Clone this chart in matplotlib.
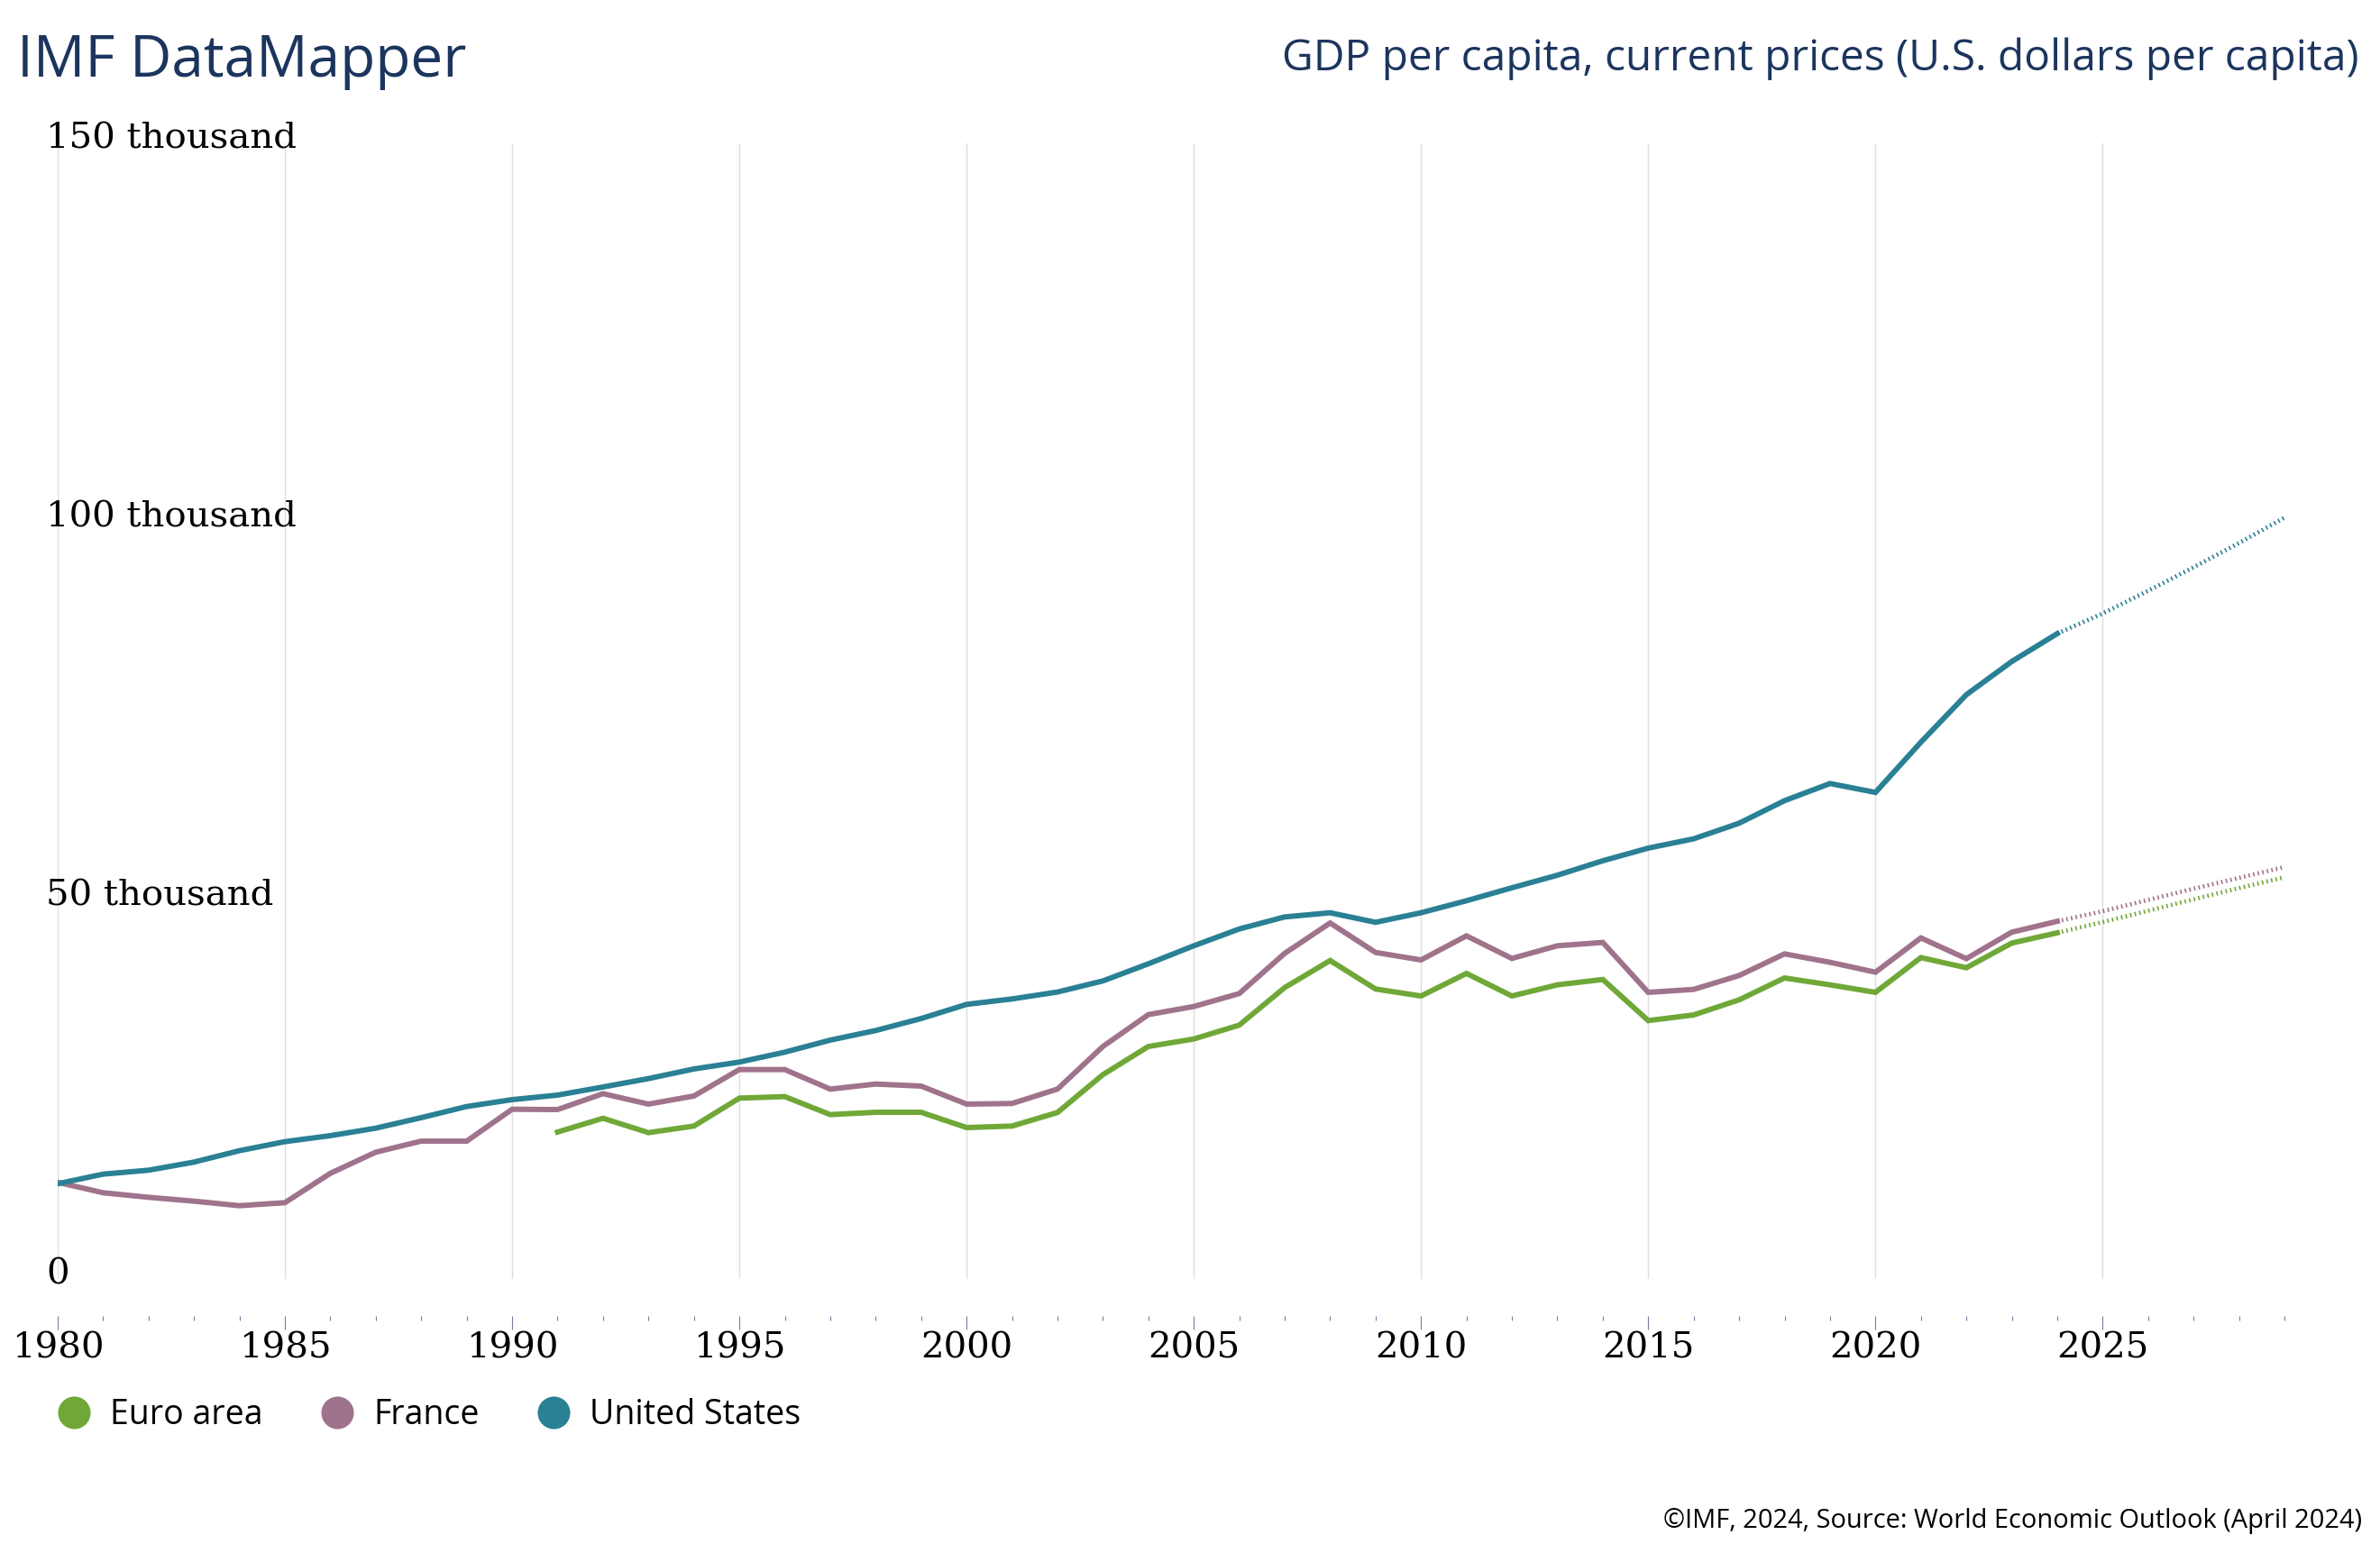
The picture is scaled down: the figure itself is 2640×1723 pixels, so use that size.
import matplotlib
matplotlib.use("Agg")
import matplotlib.pyplot as plt
from matplotlib.lines import Line2D
from matplotlib.transforms import ScaledTranslation

plt.rcParams['font.family'] = ['Open Sans', 'DejaVu Sans']

# valeurs (USD par habitant)
years = list(range(1980, 2025))
euro_years = list(range(1991, 2025))
proj_years = list(range(2024, 2030))

us = [12580, 13850, 14370, 15440, 16950, 18140, 18930, 19920, 21310, 22780,
      23690, 24290, 25360, 26470, 27740, 28650, 29960, 31550, 32820, 34400,
      36270, 36990, 37900, 39370, 41630, 44010, 46230, 47820, 48370, 47110,
      48370, 49960, 51670, 53330, 55240, 56910, 58140, 60200, 63180, 65440,
      64270, 70900, 77170, 81560, 85240]
france = [12770, 11390, 10790, 10280, 9680, 10080, 13960, 16750, 18210, 18210,
          22420, 22380, 24480, 23100, 24170, 27660, 27660, 25080, 25750, 25480,
          23100, 23180, 25080, 30710, 34920, 35990, 37700, 43010, 47020, 43130,
          42140, 45320, 42340, 44010, 44450, 37860, 38250, 40080, 42940, 41830,
          40520, 45050, 42310, 45810, 47240]
euro = [19410, 21230, 19330, 20200, 23890, 24090, 21710, 22020, 22020,
        20000, 20200, 21990, 26990, 30710, 31700, 33530, 38490, 42060, 38300,
        37380, 40360, 37380, 38850, 39560, 34130, 34880, 36870, 39760, 38850,
        37860, 42450, 41110, 44370, 45720]

us_proj = [85240, 87900, 90900, 94000, 97200, 100560]
france_proj = [47240, 48580, 50060, 51550, 52980, 54410]
euro_proj = [45720, 47140, 48630, 50150, 51630, 53060]

names = ["Euro area", "France", "United States"]
colors = ["#70a838", "#a0738c", "#2a8094"]

yticks = [0, 50000, 100000, 150000]
ylabels = ["0", "50 thousand", "100 thousand", "150 thousand"]
xticks = list(range(1980, 2026, 5))

navy = "#1c355e"

fig = plt.figure(figsize=(26.4, 17.23), dpi=100)
ax = fig.add_axes([64/2640, 1-1419/1723, (2534-64)/2640, (1419-159)/1723])

# spine d'abord, sinon les ticks sont recrees
for s in ax.spines.values():
    s.set_visible(False)
ax.spines['bottom'].set_position(('outward', 29.5))

ax.plot(euro_years, euro, color=colors[0], lw=4.3, solid_joinstyle='miter', zorder=3)
ax.plot(years, france, color=colors[1], lw=4.3, solid_joinstyle='miter', zorder=4)
ax.plot(years, us, color=colors[2], lw=4.3, solid_joinstyle='miter', zorder=5)

dots = (0, (0.35, 0.75))
ax.plot(proj_years, euro_proj, color=colors[0], lw=3.4, ls=dots, zorder=3)
ax.plot(proj_years, france_proj, color=colors[1], lw=3.4, ls=dots, zorder=4)
ax.plot(proj_years, us_proj, color=colors[2], lw=3.4, ls=dots, zorder=5)

ax.set_xlim(1980, 2029)
ax.set_ylim(0, 150000)

ax.set_xticks(xticks)
ax.set_xticks(range(1980, 2030), minor=True)
ax.set_xticklabels([str(x) for x in xticks], fontfamily='DejaVu Serif', fontsize=29)
ax.grid(axis='x', which='major', color='#dddddd', lw=1.0)
ax.set_axisbelow(True)

ax.tick_params(axis='x', which='major', direction='out', length=10.8, width=0.8,
               color='#7a7aa6', pad=2)
ax.tick_params(axis='x', which='minor', direction='out', length=3.6, width=0.8,
               color='#7a7aa6')

ax.set_yticks(yticks)
ax.set_yticklabels(ylabels, fontfamily='DejaVu Serif', fontsize=29)
ax.tick_params(axis='y', length=0, pad=9.4)
off = ScaledTranslation(0, 0.09, fig.dpi_scale_trans)
for lab in ax.get_yticklabels():
    lab.set_ha('left')
    lab.set_transform(lab.get_transform() + off)

fig.text(19/2640, 1-85/1723, "IMF DataMapper", fontsize=46, color=navy, va='baseline')
fig.text(2616/2640, 1-78/1723, "GDP per capita, current prices (U.S. dollars per capita)",
         fontsize=34.5, color=navy, ha='right', va='baseline')
fig.text(2620/2640, 1-1695/1723, "©IMF, 2024, Source: World Economic Outlook (April 2024)",
         fontsize=20.9, color='black', ha='right', va='baseline')

handles = [Line2D([], [], ls='none', marker='o', markersize=26, color=c, markeredgewidth=0)
           for c in colors]
fig.legend(handles, names, loc='center left', bbox_to_anchor=(63/2640, 1-1570/1723),
           ncol=3, frameon=False, fontsize=27, handlelength=1.0, handletextpad=0.57,
           columnspacing=1.70, borderpad=0, borderaxespad=0)

fig.savefig("out.png", dpi=100)
